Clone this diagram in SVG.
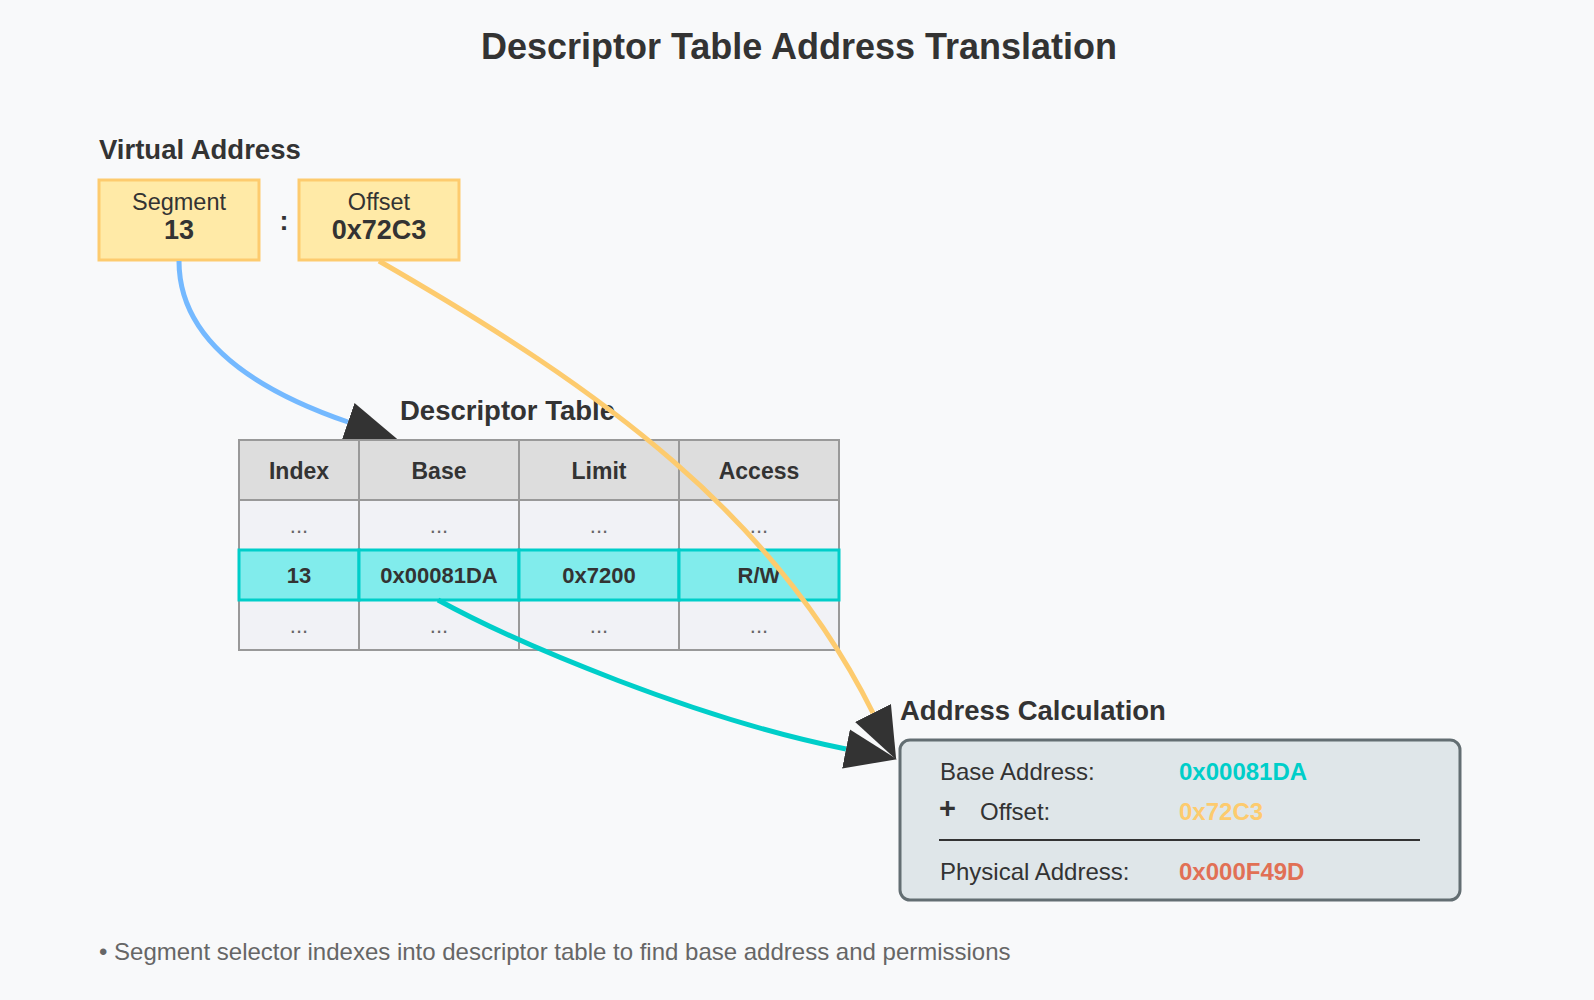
<svg xmlns="http://www.w3.org/2000/svg" width="1594" height="1000" viewBox="0 0 1594 1000">
  <style>
    text { font-family: "Liberation Sans", Arial, sans-serif; fill: #333; }
    .title { font-size: 36px; font-weight: bold; text-anchor: middle; }
    .section { font-size: 27.5px; font-weight: bold; }
    .lbl { font-size: 23.5px; text-anchor: middle; }
    .val { font-size: 27px; font-weight: bold; text-anchor: middle; }
    .vbox { fill: #ffeaa7; stroke: #fdcb6e; stroke-width: 3; }
    .th { fill: #dddddd; stroke: #999; stroke-width: 2; }
    .td { fill: #f1f2f6; stroke: #999; stroke-width: 2; }
    .hl { fill: #81ecec; stroke: #00cec9; stroke-width: 3; }
    .thtxt { font-size: 23px; font-weight: bold; text-anchor: middle; }
    .dots { font-size: 22px; fill: #666; text-anchor: middle; }
    .hltxt { font-size: 22px; font-weight: bold; text-anchor: middle; }
    .calc { fill: #dfe6e9; stroke: #636e72; stroke-width: 3; }
    .ctxt { font-size: 24px; }
    .cval { font-size: 24px; font-weight: bold; }
    .plus { font-size: 29px; font-weight: bold; }
    .edge { fill: none; stroke-width: 5; }
    .foot { font-size: 24px; fill: #666; }
  </style>
  <defs>
    <marker id="arrow" markerUnits="userSpaceOnUse" markerWidth="52" markerHeight="40" viewBox="0 0 52 40" refX="0" refY="20" orient="auto">
      <path d="M0,0 L52,20 L0,40 Z" fill="#333"/>
    </marker>
  </defs>

  <rect x="0" y="0" width="1594" height="1000" fill="#f8f9fa"/>

  <text class="title" x="799" y="59">Descriptor Table Address Translation</text>

  <g id="virtual-address">
    <text class="section" x="99" y="159">Virtual Address</text>
    <g id="segment">
      <rect class="vbox" x="99" y="180" width="160" height="80"/>
      <text class="lbl" x="179" y="210">Segment</text>
      <text class="val" x="179" y="239">13</text>
    </g>
    <text class="val" x="284" y="230">:</text>
    <g id="offset">
      <rect class="vbox" x="299" y="180" width="160" height="80"/>
      <text class="lbl" x="379" y="210">Offset</text>
      <text class="val" x="379" y="239">0x72C3</text>
    </g>
  </g>

  <g id="connectors-back">
    <path class="edge" d="M179,261 C179,340 255,390 348,422" stroke="#74b9ff" marker-end="url(#arrow)"/>
  </g>

  <g id="descriptor-table">
    <text class="section" x="400" y="420">Descriptor Table</text>
    <rect class="th" x="239" y="440" width="120" height="60"/>
    <rect class="th" x="359" y="440" width="160" height="60"/>
    <rect class="th" x="519" y="440" width="160" height="60"/>
    <rect class="th" x="679" y="440" width="160" height="60"/>
    <text class="thtxt" x="299" y="479">Index</text>
    <text class="thtxt" x="439" y="479">Base</text>
    <text class="thtxt" x="599" y="479">Limit</text>
    <text class="thtxt" x="759" y="479">Access</text>

    <rect class="td" x="239" y="500" width="120" height="50"/>
    <rect class="td" x="359" y="500" width="160" height="50"/>
    <rect class="td" x="519" y="500" width="160" height="50"/>
    <rect class="td" x="679" y="500" width="160" height="50"/>
    <text class="dots" x="299" y="533">...</text>
    <text class="dots" x="439" y="533">...</text>
    <text class="dots" x="599" y="533">...</text>
    <text class="dots" x="759" y="533">...</text>

    <rect class="td" x="239" y="600" width="120" height="50"/>
    <rect class="td" x="359" y="600" width="160" height="50"/>
    <rect class="td" x="519" y="600" width="160" height="50"/>
    <rect class="td" x="679" y="600" width="160" height="50"/>
    <text class="dots" x="299" y="633">...</text>
    <text class="dots" x="439" y="633">...</text>
    <text class="dots" x="599" y="633">...</text>
    <text class="dots" x="759" y="633">...</text>

    <g id="row-13">
      <rect class="hl" x="239" y="550" width="120" height="50"/>
      <rect class="hl" x="359" y="550" width="160" height="50"/>
      <rect class="hl" x="519" y="550" width="160" height="50"/>
      <rect class="hl" x="679" y="550" width="160" height="50"/>
      <text class="hltxt" x="299" y="583">13</text>
      <text class="hltxt" x="439" y="583">0x00081DA</text>
      <text class="hltxt" x="599" y="583">0x7200</text>
      <text class="hltxt" x="759" y="583">R/W</text>
    </g>
  </g>

  <g id="connectors">
    <path class="edge" d="M438,600 C520,645 700,720 846,749" stroke="#00cec9" marker-end="url(#arrow)"/>
    <path class="edge" d="M379,261 C605,391 775,516 873,713" stroke="#fdcb6e" marker-end="url(#arrow)"/>
  </g>

  <g id="address-calculation">
    <text class="section" x="900" y="720">Address Calculation</text>
    <rect class="calc" x="900" y="740" width="560" height="160" rx="10" ry="10"/>
    <text class="ctxt" x="940" y="780">Base Address:</text>
    <text class="cval" x="1179" y="780" style="fill:#00cec9">0x00081DA</text>
    <text class="plus" x="939" y="818">+</text>
    <text class="ctxt" x="980" y="820">Offset:</text>
    <text class="cval" x="1179" y="820" style="fill:#fdcb6e">0x72C3</text>
    <line x1="939" y1="840" x2="1420" y2="840" stroke="#333" stroke-width="2"/>
    <text class="ctxt" x="940" y="880">Physical Address:</text>
    <text class="cval" x="1179" y="880" style="fill:#e17055">0x000F49D</text>
  </g>

  <text class="foot" x="99" y="960">• Segment selector indexes into descriptor table to find base address and permissions</text>
</svg>
